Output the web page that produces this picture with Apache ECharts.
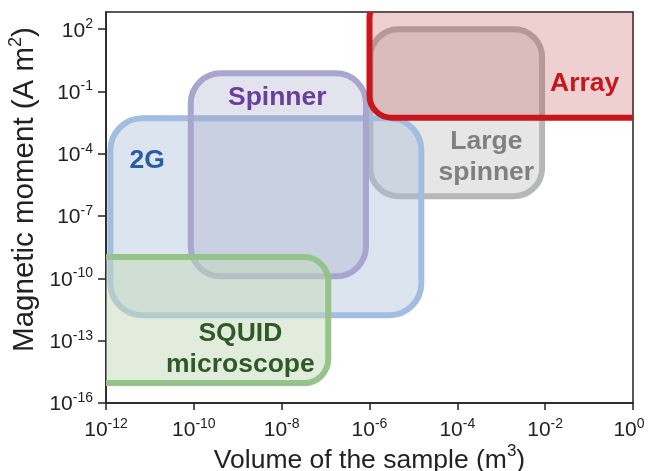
<!DOCTYPE html>
<html><head><meta charset="utf-8">
<script src="https://cdn.jsdelivr.net/npm/echarts@6/dist/echarts.min.js"></script>
<style>html,body{margin:0;padding:0;background:#fff}#c{width:652px;height:471px}</style>
</head><body><div id="c"></div>
<script>
// Regions in log10 units (x: volume m^3, y: moment A m^2), drawn in this order
const regionNames = ['Large\nspinner', '2G', 'Spinner', 'Array', 'SQUID\nmicroscope'];
const xLow  = [-5.98, -11.9, -10.07, -6.0, -12.5];
const xHigh = [-2.07, -4.82,  -6.08,  0.6, -6.94];
const yLow  = [-6.04, -11.77,  -9.9, -2.26, -15.04];
const yHigh = [ 2.0,  -2.29,  -0.12,  3.6,  -8.97];
const labelX = [-3.34, -11.06, -8.1, -1.1, -8.94];
const labelY = [-4.16,  -4.31, -1.32, -0.6, -13.4];
const xTicks = [-12, -10, -8, -6, -4, -2, 0];
const yTicks = [-16, -13, -10, -7, -4, -1, 2];

const styles = [
  {fill: 'rgba(128,128,128,0.2)', stroke: '#b6b8b8', text: '#808080', r: 28},
  {fill: 'rgba(168,190,215,0.4)', stroke: '#a3bde0', text: '#2a5ca6', r: 32},
  {fill: 'rgba(151,151,192,0.27)', stroke: '#a8a6cf', text: '#6a3f9b', r: 30},
  {fill: 'rgba(182,41,41,0.22)', stroke: '#c8161d', text: '#c8161d', r: 22},
  {fill: 'rgba(195,217,185,0.5)', stroke: '#95c48a', text: '#2f5a28', r: 24}
];

const data = regionNames.map((n, i) => [xLow[i], xHigh[i], yLow[i], yHigh[i], labelX[i], labelY[i]]);
const FONT = '"Liberation Sans", Arial, Helvetica, sans-serif';
const supRich = {
  b: {fontSize: 21, fontFamily: FONT, color: '#222', lineHeight: 24, verticalAlign: 'bottom'},
  s: {fontSize: 14, fontFamily: FONT, color: '#222', lineHeight: 14, verticalAlign: 'top'},
  z: {fontSize: 14, fontFamily: FONT, color: '#222', lineHeight: 14, verticalAlign: 'top', padding: [0, 8, 0, 0]}
};

const chart = echarts.init(document.getElementById('c'), null, {renderer: 'canvas'});
chart.setOption({
  animation: false,
  backgroundColor: '#fff',
  grid: {left: 106, right: 19, top: 12, bottom: 68, outerBoundsMode: 'none', containLabel: false,
         show: true, borderColor: '#222', borderWidth: 1.5, backgroundColor: 'transparent'},
  xAxis: {
    type: 'value', min: -12, max: 0, interval: 2,
    axisLine: {show: true, onZero: false, lineStyle: {color: '#222', width: 1.5}},
    axisTick: {show: true, length: 7, customValues: xTicks, lineStyle: {color: '#222', width: 1.5}},
    splitLine: {show: false},
    axisLabel: {margin: 14, customValues: xTicks,
      formatter: v => v === 0 ? '{b|10}{z|' + v + '}' : '{b|10}{s|' + v + '}', rich: supRich},
    name: '{t|Volume of the sample (m}{u|3}{t|)}',
    nameLocation: 'middle', nameGap: 40, nameMoveOverlap: false,
    nameTextStyle: {rich: {
      t: {fontSize: 26.5, fontFamily: FONT, color: '#222', lineHeight: 31, verticalAlign: 'bottom'},
      u: {fontSize: 17, fontFamily: FONT, color: '#222', lineHeight: 17, verticalAlign: 'top'}
    }}
  },
  yAxis: {
    type: 'value', min: -16, max: 2.83,
    axisLine: {show: true, onZero: false, lineStyle: {color: '#222', width: 1.5}},
    axisTick: {show: true, length: 8, customValues: yTicks, lineStyle: {color: '#222', width: 1.5}},
    splitLine: {show: false},
    axisLabel: {margin: 13, customValues: yTicks, formatter: v => '{b|10}{s|' + v + '}', rich: supRich},
    name: '{t|Magnetic moment (A m}{u|2}{t|)}',
    nameLocation: 'middle', nameGap: 66, nameMoveOverlap: false,
    nameTextStyle: {padding: [0, 0, 0, 36], rich: {
      t: {fontSize: 29.5, fontFamily: FONT, color: '#222', lineHeight: 33, verticalAlign: 'bottom'},
      u: {fontSize: 18, fontFamily: FONT, color: '#222', lineHeight: 18, verticalAlign: 'top'}
    }}
  },
  series: [{
    type: 'custom',
    clip: true,
    data: data,
    renderItem: function (params, api) {
      const i = params.dataIndex;
      const st = styles[i];
      const p0 = api.coord([api.value(0), api.value(3)]);
      const p1 = api.coord([api.value(1), api.value(2)]);
      const lp = api.coord([api.value(4), api.value(5)]);
      return {
        type: 'group',
        children: [
          {type: 'rect', z2: 1 + i,
           shape: {x: p0[0], y: p0[1], width: p1[0] - p0[0], height: p1[1] - p0[1], r: st.r},
           style: {fill: st.fill, stroke: st.stroke, lineWidth: 6}},
          {type: 'text', z2: 20, x: lp[0], y: lp[1],
           style: {text: regionNames[i], fill: st.text, font: 'bold 26.5px ' + FONT,
                   align: 'center', verticalAlign: 'middle', lineHeight: 31}}
        ]
      };
    }
  }]
});
</script>
</body></html>
